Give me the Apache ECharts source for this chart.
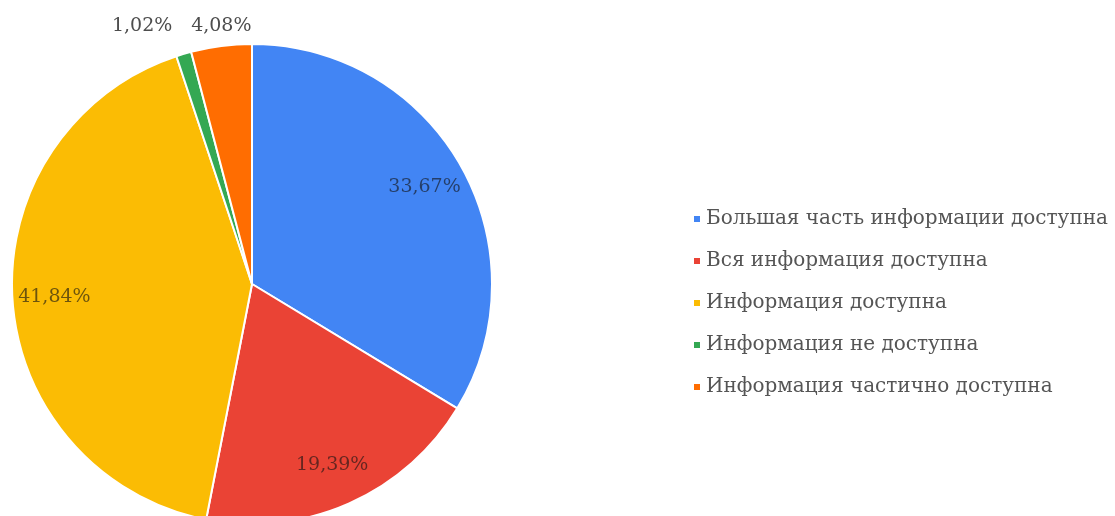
<!DOCTYPE html>
<html>
<head>
<meta charset="utf-8">
<script src="https://cdn.jsdelivr.net/npm/echarts@6/dist/echarts.min.js"></script>
<style>
  html, body { margin: 0; padding: 0; background: #fff; }
  #main { width: 1115px; height: 516px; }
</style>
</head>
<body>
<div id="main"></div>
<script>
"use strict";

// categories and shares (%)
const categories = [
  'Большая часть информации доступна',
  'Вся информация доступна',
  'Информация доступна',
  'Информация не доступна',
  'Информация частично доступна'
];
const shares = [33.67, 19.39, 41.84, 1.02, 4.08];
const colors = ['#4285F4', '#EA4335', '#FBBC04', '#34A853', '#FF6D01'];

const FONT = "'DejaVu Serif', 'Liberation Serif', serif";
const CX = 252, CY = 284, R = 240;

let chart = echarts.init(document.getElementById('main'));

let pieData = categories.map((name, i) => ({
  name: name,
  value: shares[i],
  itemStyle: { color: colors[i] }
}));

// mid angle of each slice (deg, clockwise from top)
let total = shares.reduce((a, b) => a + b, 0);
let acc = 0;
let midAngles = shares.map(v => {
  let m = (acc + v / 2) / total * 360;
  acc += v;
  return m;
});

let fmt = p => p.value.toFixed(2).replace('.', ',') + '%';

// small slices get their labels above the pie
let isSmall = v => v < 5;

let labelData = categories.map((name, i) => ({
  name: name,
  value: shares[i],
  label: isSmall(shares[i])
    ? { position: 'outside', color: '#4d4d4d' }
    : { position: 'inside', color: 'rgba(20,20,20,0.62)' }
}));

let option = {
  animation: false,
  legend: {
    orient: 'vertical',
    left: 687,
    top: 203,
    icon: 'rect',
    itemWidth: 8,
    itemHeight: 8,
    itemGap: 20,
    textStyle: { fontFamily: FONT, fontSize: 20, color: '#555', lineHeight: 22 },
    data: categories
  },
  series: [
    {
      type: 'pie',
      center: [CX, CY],
      radius: R,
      startAngle: 90,
      silent: true,
      itemStyle: { borderColor: '#fff', borderWidth: 2 },
      label: { show: false },
      labelLine: { show: false },
      data: pieData
    },
    {
      // transparent ring used to place the labels at ~0.8 R
      type: 'pie',
      center: [CX, CY],
      radius: [150, R],
      startAngle: 90,
      silent: true,
      legendHoverLink: false,
      itemStyle: { color: 'rgba(0,0,0,0)' },
      label: {
        show: true,
        formatter: fmt,
        fontFamily: FONT,
        fontSize: 19
      },
      labelLine: { show: false },
      labelLayout: function (p) {
        let i = p.dataIndex;
        if (!isSmall(shares[i])) return {};
        let ox = CX + R * Math.sin(midAngles[4] * Math.PI / 180);
        let y = CY - R - 18;
        if (i === 4) {
          return { x: ox, y: y, align: 'center', verticalAlign: 'middle' };
        }
        return { x: ox - 49, y: y, align: 'right', verticalAlign: 'middle' };
      },
      data: labelData
    }
  ]
};

chart.setOption(option);
</script>
</body>
</html>
